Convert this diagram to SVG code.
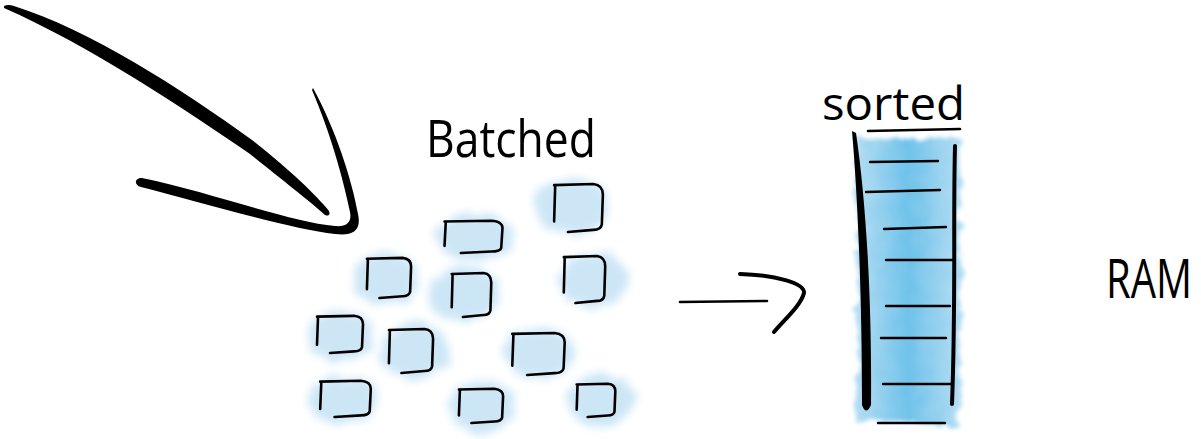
<svg xmlns="http://www.w3.org/2000/svg" width="1201" height="439" viewBox="0 0 1201 439">
  <style>
    .ink { fill: #000; }
    .pen { fill: none; stroke: #000; stroke-linecap: round; stroke-linejoin: round; }
    .label { font-family: "Open Sans", "Liberation Sans", sans-serif; fill: #000; }
    .wash { fill: #c4e2f5; opacity: 0.85; filter: url(#soft); }
  </style>
  <defs>
    <filter id="soft" x="-40%" y="-40%" width="180%" height="180%">
      <feTurbulence type="fractalNoise" baseFrequency="0.07" numOctaves="2" seed="3" result="n"/>
      <feDisplacementMap in="SourceGraphic" in2="n" scale="14" xChannelSelector="R" yChannelSelector="G" result="d"/>
      <feGaussianBlur in="d" stdDeviation="4"/>
    </filter>
    <filter id="columnWash" x="-20%" y="-10%" width="140%" height="120%">
      <feTurbulence type="fractalNoise" baseFrequency="0.06" numOctaves="3" seed="7" result="n"/>
      <feDisplacementMap in="SourceGraphic" in2="n" scale="18" xChannelSelector="R" yChannelSelector="G" result="d"/>
      <feGaussianBlur in="d" stdDeviation="2"/>
    </filter>
    <linearGradient id="colGrad" x1="0" y1="0" x2="1" y2="0">
      <stop offset="0" stop-color="#b4ddf3"/>
      <stop offset="0.5" stop-color="#6fc2ea"/>
      <stop offset="1" stop-color="#b4ddf3"/>
    </linearGradient>
    <!-- hand-drawn block outline, drawn in a 50 x 46 box -->
    <symbol id="block" viewBox="0 0 50 46" preserveAspectRatio="none" overflow="visible">
      <path class="pen" vector-effect="non-scaling-stroke" stroke-width="2.6"
            d="M3,3 L2,36 M2,2 L39,1 Q48,2 48,11 L47,39 Q46,44 39,44 L15,46"/>
    </symbol>
  </defs>

  <!-- big incoming arrow -->
  <g id="incoming-arrow">
    <path class="ink" d="M4,6 Q8,4 14,6 C 90,30 180,88 252,140 C 290,170 316,195 329,211 Q331,217 325,215 C 312,203 290,186 250,154 C 180,106 90,46 4,8 Z"/>
    <path class="ink" d="M313,88 C 336,130 352,180 358,214 C 362,232 351,236 335,234 C 290,229 200,202 141,187 C 134,185 134,178 142,178 C 210,192 290,222 335,226 C 347,227 352,222 350,212 C 343,178 330,132 312,90 Z"/>
  </g>

  <!-- batched blocks -->
  <g id="batched">
    <text class="label" x="426" y="157" font-size="52" textLength="170" lengthAdjust="spacingAndGlyphs">Batched</text>
    <g id="washes">
      <ellipse class="wash" cx="572" cy="206" rx="40" ry="28"/>
      <ellipse class="wash" cx="474" cy="237" rx="40" ry="24"/>
      <ellipse class="wash" cx="386" cy="279" rx="33" ry="26"/>
      <ellipse class="wash" cx="464" cy="294" rx="35" ry="28"/>
      <ellipse class="wash" cx="594" cy="280" rx="35" ry="28"/>
      <ellipse class="wash" cx="340" cy="335" rx="34" ry="26"/>
      <ellipse class="wash" cx="414" cy="351" rx="35" ry="28"/>
      <ellipse class="wash" cx="540" cy="353" rx="36" ry="26"/>
      <ellipse class="wash" cx="343" cy="399" rx="36" ry="24"/>
      <ellipse class="wash" cx="482" cy="406" rx="34" ry="26"/>
      <ellipse class="wash" cx="601" cy="400" rx="33" ry="26"/>
    </g>
    <use id="block-1" href="#block" x="552" y="183" width="53" height="49"/>
    <use id="block-2" href="#block" x="442" y="220" width="63" height="33"/>
    <use id="block-3" href="#block" x="365" y="257" width="48" height="41"/>
    <use id="block-4" href="#block" x="450" y="272" width="43" height="45"/>
    <use id="block-5" href="#block" x="562" y="255" width="45" height="48"/>
    <use id="block-6" href="#block" x="315" y="315" width="50" height="38"/>
    <use id="block-7" href="#block" x="387" y="328" width="48" height="45"/>
    <use id="block-8" href="#block" x="510" y="332" width="57" height="43"/>
    <use id="block-9" href="#block" x="318" y="380" width="55" height="37"/>
    <use id="block-10" href="#block" x="457" y="388" width="48" height="35"/>
    <use id="block-11" href="#block" x="575" y="383" width="42" height="34"/>
  </g>

  <!-- connector from batch to sorted column -->
  <g id="connectors">
    <path class="pen" stroke-width="2.6" d="M680,302 L767,301"/>
    <path class="pen" stroke-width="4" d="M740,274 C 775,275 805,283 804,293 C 801,305 786,318 774,332"/>
  </g>

  <!-- sorted column in RAM -->
  <g id="sorted">
    <rect x="857" y="140" width="103" height="284" fill="url(#colGrad)" filter="url(#columnWash)"/>
    <text class="label" x="822" y="120" font-size="46" textLength="143" lengthAdjust="spacingAndGlyphs">sorted</text>
    <path class="pen" stroke-width="2.6" d="M868,131 L960,129"/>
    <path class="ink" d="M852,131 C 858,200 862,300 862,405 Q866,416 871,405 C 872,300 866,200 856,133 Z"/>
    <path class="pen" stroke-width="4" d="M955,146 C 953,220 956,300 952,404"/>
    <g class="pen" stroke-width="2.4">
      <path d="M870,162 L938,161"/>
      <path d="M866,192 L940,190"/>
      <path d="M884,229 L946,227"/>
      <path d="M886,260 L953,260"/>
      <path d="M886,306 L950,306"/>
      <path d="M881,338 L946,338"/>
      <path d="M883,384 L952,384"/>
      <path d="M878,423 L945,423"/>
    </g>
  </g>

  <g id="ram">
    <text class="label" transform="translate(1106,298) scale(1,1.3)" x="0" y="0" font-size="42" textLength="86" lengthAdjust="spacingAndGlyphs">RAM</text>
  </g>
</svg>
